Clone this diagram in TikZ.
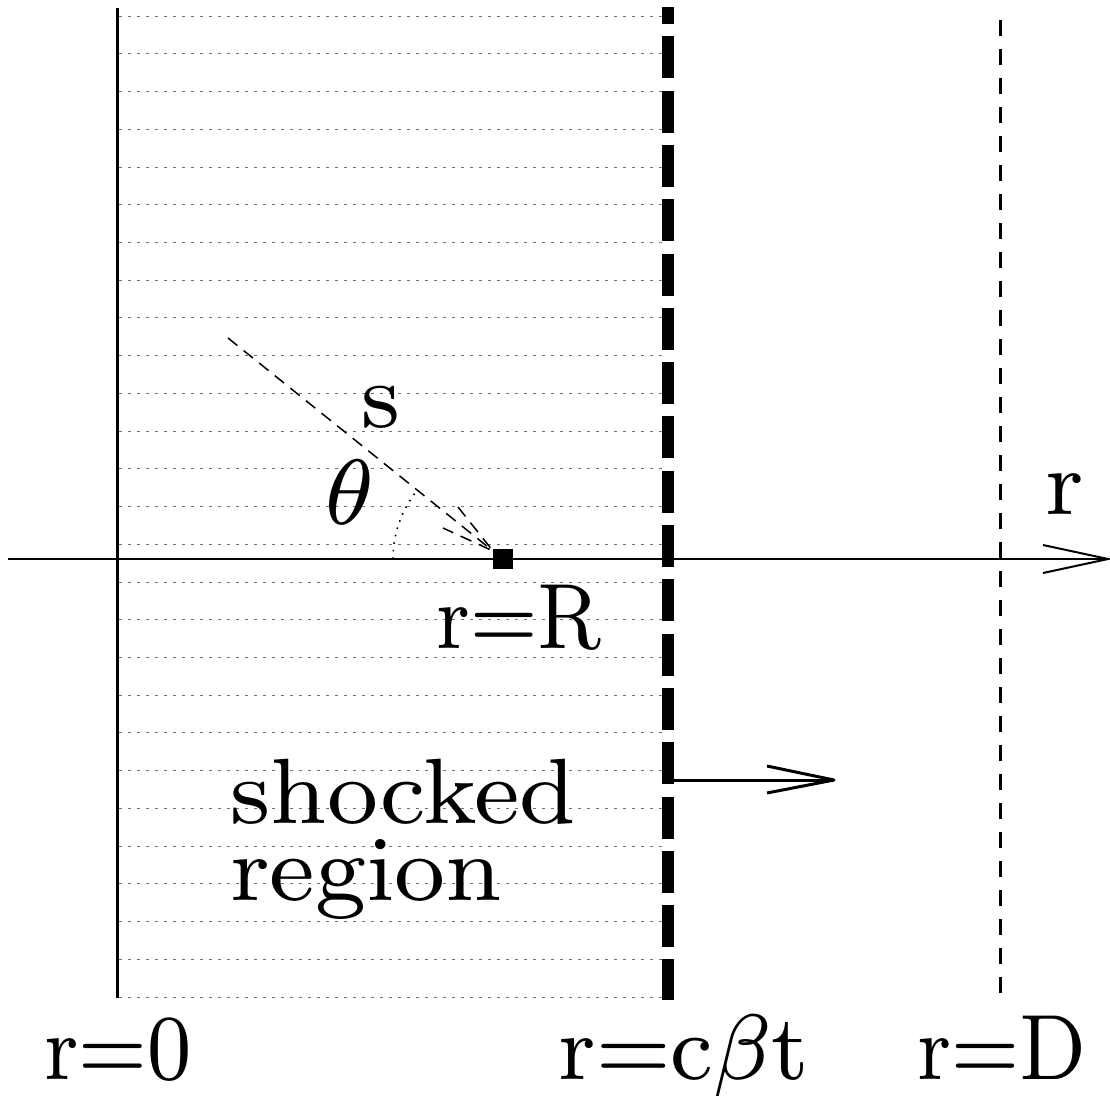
\documentclass[tikz,border=0pt]{standalone}
\usepackage{graphicx}
\newcommand\lbl[2][11.6]{\scalebox{#1}[11.6]{\fontsize{8}{9}\selectfont #2}}
\begin{document}
\begin{tikzpicture}[x=1pt,y=-1pt,
  lab/.style={inner sep=0pt, anchor=base},
  gridline/.style={black!55, line width=0.8pt, dash pattern=on 3pt off 6pt},
  sline/.style={line width=1.5pt, dash pattern=on 12pt off 8pt},
  dotarc/.style={line width=1.6pt, dash pattern=on 1.6pt off 6pt},
  shock/.style={line width=12pt, dash pattern=on 42pt off 12.3pt, dash phase=25pt},
  outer/.style={line width=3pt, dash pattern=on 16pt off 13pt},
  axis/.style={line width=2pt},
  push/.style={line width=3pt, line join=round}]
\useasboundingbox (0,0) rectangle (1110,1095);
% horizontal hatching
\foreach \i in {0,...,26}
  \draw[gridline] (119,{16+\i*37.73}) -- (662,{16+\i*37.73});
% boundaries
\coordinate (lt) at (117,8);  \coordinate (lb) at (117,998);
\coordinate (st) at (668,7);  \coordinate (sb) at (668,1000);
\coordinate (dt) at (1000,20); \coordinate (db) at (1000,998);
\draw[line width=3pt] (lt) -- (lb);
\draw[shock] (st) -- (sb);
\draw[outer] (dt) -- (db);
% axis
\coordinate (axL) at (8,559); \coordinate (axR) at (1108,559);
\draw[axis] (axL) -- (axR);
\draw[axis] (1043,545) -- (axR) -- (1043,573);
% shock motion arrow
\coordinate (pa) at (668,780); \coordinate (pb) at (834,780);
\draw[push] (pa) -- (pb);
\draw[push] (767,766) -- (pb) -- (767,793);
% source point
\node[fill=black, minimum size=20pt, inner sep=0pt] (pt) at (503,559) {};
\coordinate (sfar) at (228,338);
\coordinate (tip) at (493,551);
\draw[sline] (sfar) -- (tip);
\draw[sline] (458,507) -- (tip) -- (443,528);
\draw[dotarc] (393,559) arc[start angle=180, end angle=218.5, radius=110];
% labels
\node[lab] (ls) at (381,427) {\lbl{s}};
\node[lab] (lth) at (350,524) {\lbl{$\theta$}};
\node[lab] (lr) at (1065,514) {\lbl{r}};
\node[lab] (lR) at (519,648) {\lbl[10.2]{r=R}};
\node[lab, anchor=base west] (sh) at (230,823) {\lbl[12]{shocked}};
\node[lab, anchor=base west] (rg) at (230,900) {\lbl[12]{region}};
\node[lab] (l0) at (118,1079) {\lbl[10.4]{r=0}};
\node[lab] (lc) at (684,1079) {\lbl[11.3]{r=c$\beta$t}};
\node[lab] (lD) at (1002,1079) {\lbl[10.3]{r=D}};
\end{tikzpicture}
\end{document}
